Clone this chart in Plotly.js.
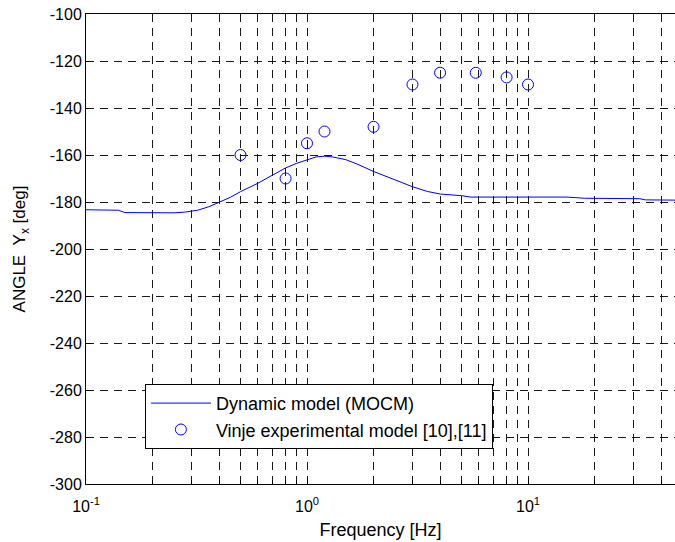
<!DOCTYPE html>
<html>
<head>
<meta charset="utf-8">
<script src="https://cdn.plot.ly/plotly-3.0.1.min.js"></script>
<style>html,body{margin:0;padding:0;background:#fff;}#chart{width:675px;height:542px;}</style>
</head>
<body>
<div id="chart"></div>
<script>
// Dynamic model (MOCM) curve
const modelFreq = [0.1, 0.14, 0.15, 0.2, 0.25, 0.28, 0.32, 0.36, 0.4, 0.45, 0.5, 0.6, 0.7, 0.8, 0.9, 1.0, 1.1, 1.2, 1.3, 1.5, 1.7, 2.0, 2.5, 3.0, 3.5, 4.0, 5.0, 5.5, 7, 10, 15, 18, 25, 32, 34, 47];
const modelAngle = [-183.3, -183.5, -184.5, -184.6, -184.6, -184.3, -183.5, -182, -180, -178, -175.6, -172, -168.5, -165.5, -163.5, -162, -160.8, -160.5, -160.8, -162, -164, -167, -170.5, -173.5, -175.5, -176.6, -177.3, -177.9, -177.9, -177.9, -177.9, -178.4, -178.4, -178.6, -179.1, -179.2];
// Vinje experimental model points
const expFreq = [0.5, 0.8, 1.0, 1.2, 2, 3, 4, 5.8, 8, 10];
const expAngle = [-160, -170, -155, -150, -148, -130, -125, -125, -127, -130];
// Axis ticks
const xTickVals = [0.1, 1, 10];
const xTickText = ['10<sup>-1</sup>', '10<sup>0</sup>', '10<sup>1</sup>'];
const xMinorVals = [0.2,0.3,0.4,0.5,0.6,0.7,0.8,0.9,2,3,4,5,6,7,8,9,20,30,40];
const yTickVals = [-300,-280,-260,-240,-220,-200,-180,-160,-140,-120,-100];
const yTickText = ['-300','-280','-260','-240','-220','-200','-180','-160','-140','-120','-100'];

const gridStyle = {gridcolor: '#1a1a1a', griddash: '8px,6px', gridwidth: 1};

const traces = [
  {x: modelFreq, y: modelAngle, type: 'scatter', mode: 'lines', name: 'Dynamic model (MOCM)',
   line: {color: '#0000ff', width: 1}},
  {x: expFreq, y: expAngle, type: 'scatter', mode: 'markers', name: 'Vinje experimental model [10],[11]',
   marker: {symbol: 'circle-open', size: 11, color: '#0000ff', line: {width: 1, color: '#0000ff'}}}
];

const layout = {
  width: 675, height: 542,
  margin: {l: 86, r: 0, t: 14, b: 58},
  paper_bgcolor: '#fff', plot_bgcolor: '#fff',
  font: {family: 'Liberation Sans, Arial, sans-serif', color: '#000', size: 16},
  showlegend: true,
  legend: {x: 0.1, y: 0.213, xanchor: 'left', yanchor: 'top', bgcolor: '#fff',
    bordercolor: '#000', borderwidth: 1, font: {size: 18}, itemwidth: 60, tracegroupgap: 0},
  xaxis: Object.assign({
    type: 'log', range: [-1, 1.665], tickmode: 'array', tickvals: xTickVals, ticktext: xTickText,
    showgrid: true, ticks: 'inside', ticklen: 5, tickcolor: '#000',
    showline: true, linecolor: '#000', linewidth: 1, mirror: true, zeroline: false,
    tickfont: {size: 16}, ticklabelstandoff: 8, automargin: false,
    title: {text: 'Frequency [Hz]', font: {size: 18}, standoff: 9},
    minor: Object.assign({tickmode: 'array', tickvals: xMinorVals, showgrid: true, ticks: 'inside', ticklen: 4, tickcolor: '#000'}, gridStyle)
  }, gridStyle),
  yaxis: Object.assign({
    range: [-300, -100], tickmode: 'array', tickvals: yTickVals, ticktext: yTickText,
    showgrid: true, ticks: 'inside', ticklen: 5, tickcolor: '#000',
    showline: true, linecolor: '#000', linewidth: 1, mirror: false, zeroline: false,
    tickfont: {size: 16}, automargin: false,
    title: {text: 'ANGLE&nbsp;&nbsp;Y<sub>x</sub> [deg]', font: {size: 17}, standoff: 19}
  }, gridStyle)
};

Plotly.newPlot('chart', traces, layout, {displayModeBar: false, staticPlot: true});
</script>
</body>
</html>
